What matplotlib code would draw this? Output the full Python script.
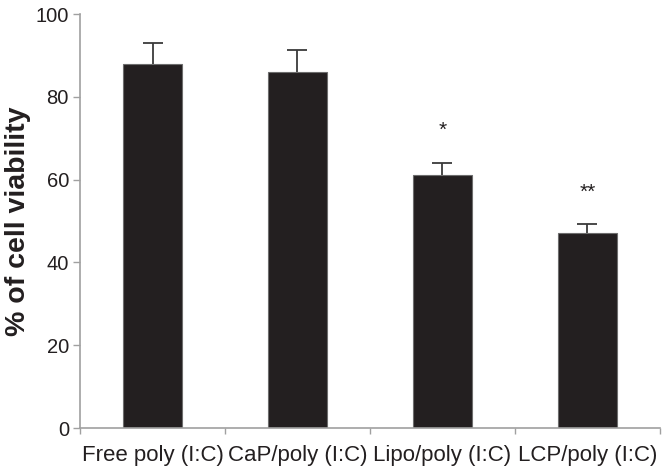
import numpy as np
import matplotlib
matplotlib.use("Agg")
import matplotlib.pyplot as plt

plt.rcParams['font.family'] = ['Liberation Sans', 'DejaVu Sans']

categories = ['Free poly (I:C)', 'CaP/poly (I:C)', 'Lipo/poly (I:C)', 'LCP/poly (I:C)']
viability = [88, 86, 61, 47]
sd = [5, 5.3, 3.0, 2.2]
marks = ['', '', '*', '**']

fig = plt.figure(figsize=(6.69, 4.73), dpi=100)
ax = fig.add_axes([0.1196, 0.0951, 0.8669, 0.8753])

x = np.arange(len(categories))
ax.bar(x, viability, width=0.41, color='#231f20', edgecolor='#6d6d6d', linewidth=0.8, zorder=2)
# errorbars drawn behind the bars so only the upper half shows
ax.errorbar(x, viability, yerr=sd, fmt='none',
            ecolor='#3a3a3a', elinewidth=1.3, capsize=7, capthick=1.3, zorder=1)

# significance marks above the error bars
for xi, v, e, m in zip(x, viability, sd, marks):
    if m:
        ax.text(xi, v + e + 5.5, m, ha='center', va='bottom', fontsize=15, color='#231f20')

ax.set_xlim(-0.5, len(categories) - 0.5)
ax.set_ylim(0, 100)
ax.set_yticks([0, 20, 40, 60, 80, 100])
ax.set_xticks(x)
ax.set_xticklabels(categories, fontsize=16, color='#231f20')
ax.set_xticks(np.arange(-0.5, len(categories)), minor=True)
ax.tick_params(axis='x', which='major', length=0, pad=12)
ax.tick_params(axis='x', which='minor', length=4, color='#a0a0a0', width=1)
ax.tick_params(axis='y', length=5, color='#a0a0a0', width=1, labelsize=14.5, labelcolor='#231f20', pad=3)

for side in ['top', 'right']:
    ax.spines[side].set_visible(False)
for side in ['left', 'bottom']:
    ax.spines[side].set_color('#a0a0a0')
    ax.spines[side].set_linewidth(1.2)

ax.set_ylabel('% of cell viability', fontsize=20.5, fontweight='bold', color='#231f20')
ax.yaxis.set_label_coords(-0.107, 0.5)
ax.yaxis.label.set_va('center')

fig.savefig('out.png', dpi=100)
